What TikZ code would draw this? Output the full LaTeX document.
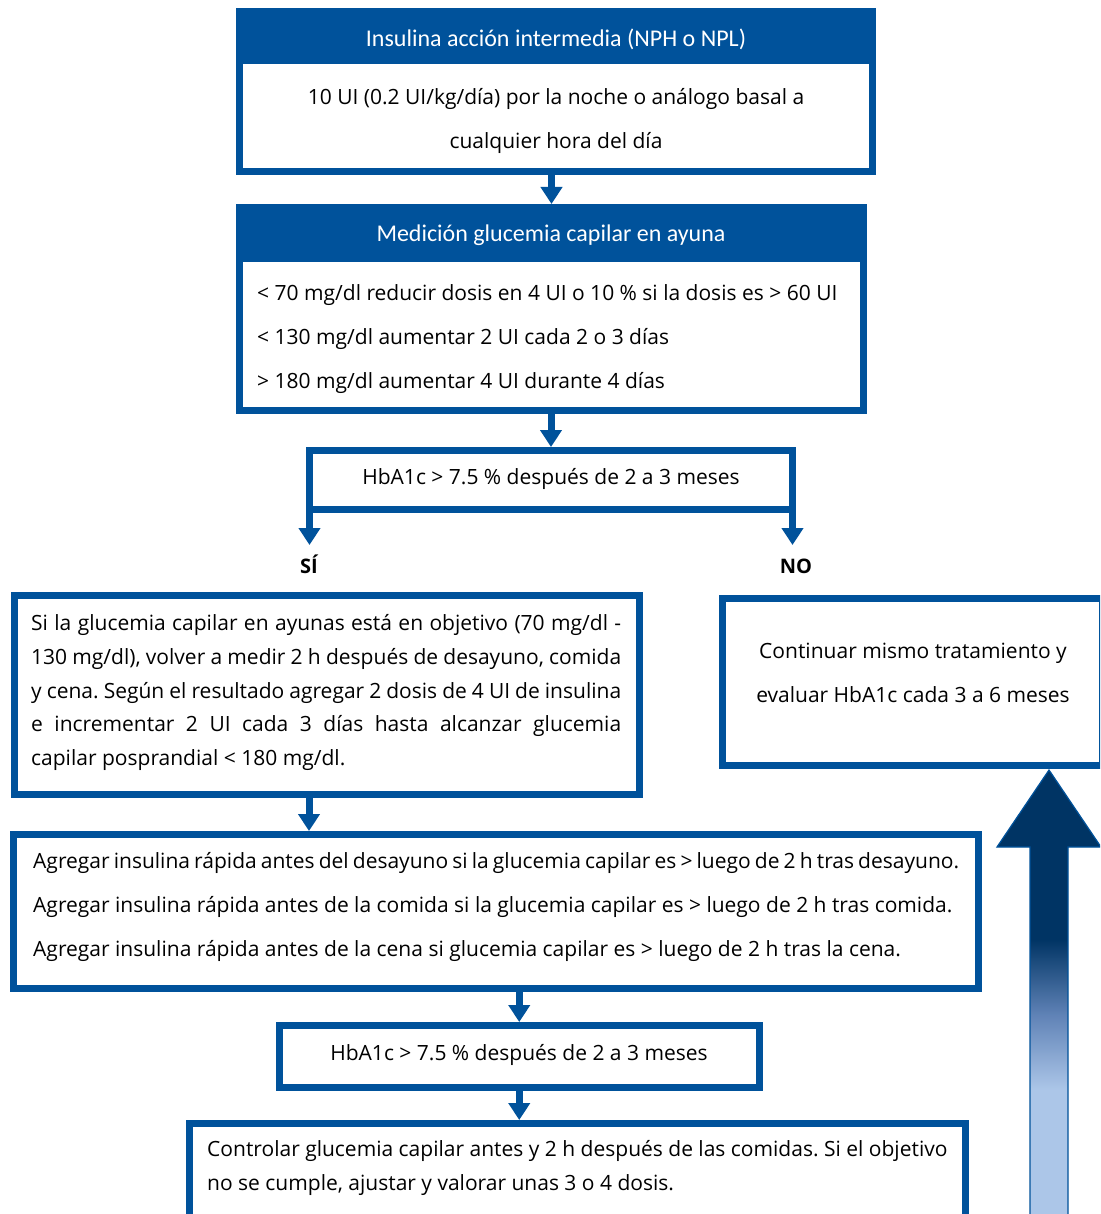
\documentclass[tikz,border=0pt]{standalone}
\usepackage{fontspec}
\setmainfont{Open Sans}
\newfontfamily\headfont{Carlito}
\usetikzlibrary{arrows.meta}
\definecolor{fb}{RGB}{0,82,155}
\definecolor{navy}{RGB}{0,52,100}
\definecolor{lightb}{RGB}{172,198,232}
\definecolor{midb}{RGB}{95,130,182}
\pgfdeclareverticalshading{upshade}{100bp}{color(0bp)=(lightb); color(41bp)=(lightb); color(49bp)=(midb); color(57bp)=(navy); color(100bp)=(navy)}
\begin{document}
\frenchspacing
\begin{tikzpicture}[x=1pt,y=-1pt,
  frame/.style={draw=fb, line width=7pt, inner sep=0pt, fill=white},
  head/.style={fill=fb, inner sep=0pt},
  htxt/.style={inner sep=0pt, yshift=-6pt, text=white, font=\headfont\fontsize{24}{28}\selectfont},
  txt/.style={inner sep=0pt, yshift=-5.5pt, text=black, font=\frenchspacing\fontsize{21}{24}\selectfont},
  lbl/.style={inner sep=0pt, yshift=-5.5pt, text=black, font=\bfseries\fontsize{20}{24}\selectfont},
  arr/.style={draw=fb, line width=7pt, -{Triangle[width=21pt,length=17pt]}}]
\clip (0,0) rectangle (1100,1214);
\fill[white] (0,0) rectangle (1100,1214);

% big gradient arrow
\shadedraw[shading=upshade, draw=fb, line width=1.2pt]
  (1049,770) -- (1101,847) -- (1068,847) -- (1068,1240) -- (1030,1240) -- (1030,847) -- (997,847) -- cycle;

% boxes
\node[frame, minimum width=633pt, minimum height=160pt] (b1) at (556,91.5) {};
\node[head, minimum width=640pt, minimum height=56pt] (h1) at (556,36) {};
\node[frame, minimum width=624pt, minimum height=203pt] (b2) at (551.5,309) {};
\node[head, minimum width=631pt, minimum height=58pt] (h2) at (551.5,233) {};
\node[frame, minimum width=483pt, minimum height=59pt] (b3) at (551,480) {};
\node[frame, minimum width=625.5pt, minimum height=199pt] (b4) at (326.75,695) {};
\node[frame, minimum width=380.5pt, minimum height=167pt] (b5) at (912.25,682) {};
\node[frame, minimum width=965pt, minimum height=154pt] (b6) at (496,911.5) {};
\node[frame, minimum width=480.5pt, minimum height=62pt] (b7) at (519.25,1056.5) {};
\node[frame, minimum width=776pt, minimum height=113pt] (b8) at (577.5,1180) {};

% texts
\node[htxt, anchor=mid] (t1h) at (556,38) {Insulina acción intermedia (NPH o NPL)};
\node[txt, anchor=mid] (t1a) at (556,96) {10 UI (0.2 UI/kg/día) por la noche o análogo basal a};
\node[txt, anchor=mid] (t1b) at (556,140) {cualquier hora del día};
\node[htxt, anchor=mid] (t2h) at (551,233) {Medición glucemia capilar en ayuna};
\node[txt, anchor=mid west] (t2a) at (257,292) {< 70 mg/dl reducir dosis en 4 UI o 10 \% si la dosis es > 60 UI};
\node[txt, anchor=mid west] (t2b) at (257,336) {< 130 mg/dl aumentar 2 UI cada 2 o 3 días};
\node[txt, anchor=mid west] (t2c) at (257,380) {> 180 mg/dl aumentar 4 UI durante 4 días};
\node[txt, anchor=mid] (t3) at (551,476) {HbA1c > 7.5 \% después de 2 a 3 meses};
\node[lbl, anchor=mid] (si) at (309,565) {SÍ};
\node[lbl, anchor=mid] (no) at (796,565) {NO};
\node[txt, anchor=mid west] (t4a) at (31,622) {\makebox[590pt][s]{Si la glucemia capilar en ayunas está en objetivo (70 mg/dl -}};
\node[txt, anchor=mid west] (t4b) at (31,656) {\makebox[590pt][s]{130 mg/dl), volver a medir 2 h después de desayuno, comida}};
\node[txt, anchor=mid west] (t4c) at (31,690) {\makebox[590pt][s]{y cena. Según el resultado agregar 2 dosis de 4 UI de insulina}};
\node[txt, anchor=mid west] (t4d) at (31,723) {\makebox[590pt][s]{e incrementar 2 UI cada 3 días hasta alcanzar glucemia}};
\node[txt, anchor=mid west] (t4e) at (31,757) {capilar posprandial < 180 mg/dl.};
\node[txt, anchor=mid] (t5a) at (913,650) {Continuar mismo tratamiento y};
\node[txt, anchor=mid] (t5b) at (913,694) {evaluar HbA1c cada 3 a 6 meses};
\node[txt, anchor=mid west] (t6a) at (33,860) {\makebox[926pt][s]{Agregar insulina rápida antes del desayuno si la glucemia capilar es > luego de 2 h tras desayuno.}};
\node[txt, anchor=mid west] (t6b) at (33,904) {Agregar insulina rápida antes de la comida si la glucemia capilar es > luego de 2 h tras comida.};
\node[txt, anchor=mid west] (t6c) at (33,948) {Agregar insulina rápida antes de la cena si glucemia capilar es > luego de 2 h tras la cena.};
\node[txt, anchor=mid] (t7) at (519,1052) {HbA1c > 7.5 \% después de 2 a 3 meses};
\node[txt, anchor=mid west] (t8a) at (207,1148) {Controlar glucemia capilar antes y 2 h después de las comidas. Si el objetivo};
\node[txt, anchor=mid west] (t8b) at (207,1182) {no se cumple, ajustar y valorar unas 3 o 4 dosis.};

% connectors
\coordinate (siTip) at (309.5,545);
\coordinate (noTip) at (792.5,545);
\coordinate (c5) at (309,0);
\draw[arr] (b2.north |- b1.south) -- (b2.north);
\draw[arr] (b3.north |- b2.south) -- (b3.north);
\draw[arr] (b3.south -| siTip) -- (siTip);
\draw[arr] (b3.south -| noTip) -- (noTip);
\draw[arr] (b4.south -| c5) -- (b6.north -| c5);
\draw[arr] (b7.north |- b6.south) -- (b7.north);
\draw[arr] (b7.south) -- (b8.north -| b7.south);
\end{tikzpicture}
\end{document}
